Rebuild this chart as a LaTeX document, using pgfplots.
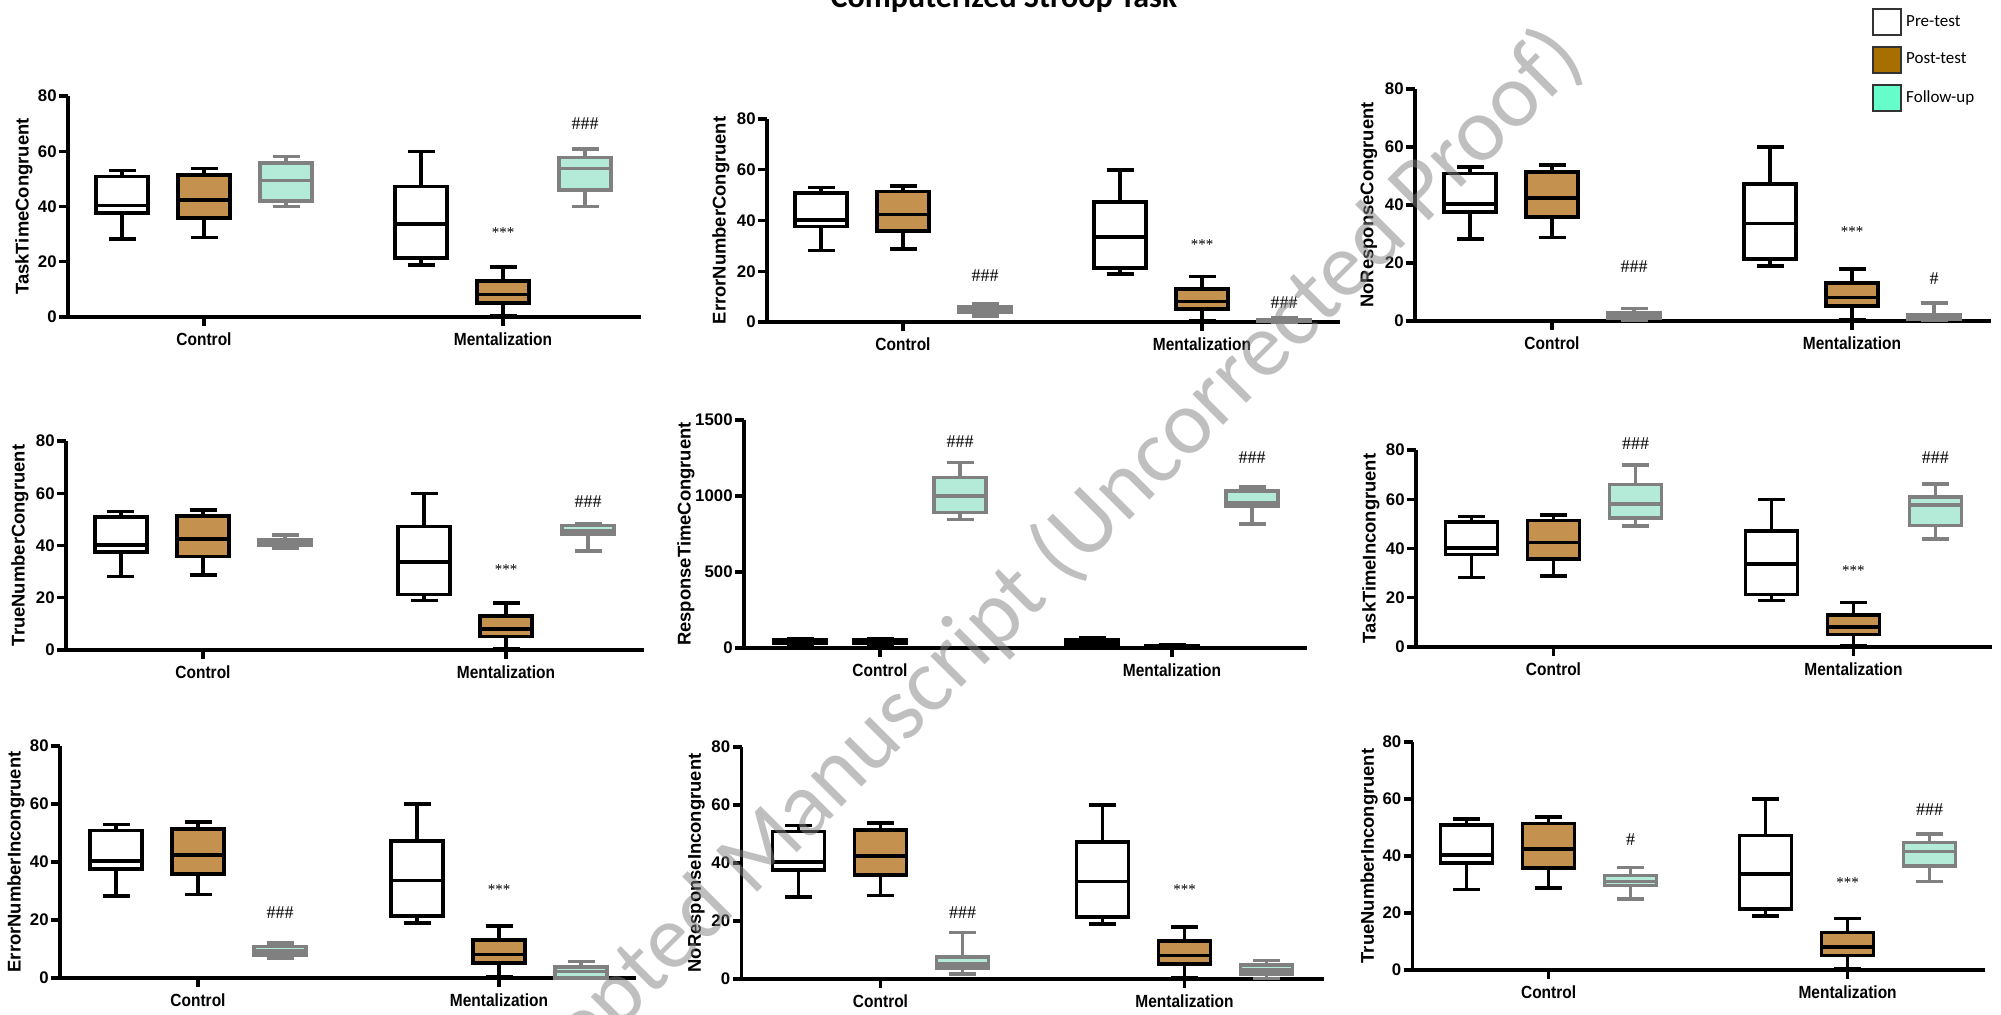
\documentclass[border=0pt]{standalone}
\usepackage{pgfplots}
\pgfplotsset{compat=1.18}
\usepgfplotslibrary{statistics}
\usepackage{fontspec}
\setmainfont{Liberation Sans}
\newfontfamily\lsans{Liberation Sans}
\newfontfamily\lcond{Liberation Sans}[FakeStretch=0.88]
\newfontfamily\carl{Carlito}
\newfontfamily\lserif{Liberation Serif}
\newcommand{\tickf}{\lsans\bfseries\fontsize{8.4}{9}\selectfont}
\newcommand{\catf}{\lcond\bfseries\fontsize{8.8}{10}\selectfont}
\newcommand{\ylabf}{\lsans\bfseries\fontsize{9.2}{10}\selectfont}
\newcommand{\legf}{\carl\fontsize{8.5}{10}\selectfont}
\newcommand{\titf}{\carl\bfseries\fontsize{16}{18}\selectfont}
\newcommand{\hashf}{\lserif\fontsize{9}{10}\selectfont}
\newcommand{\starf}{\lserif\fontsize{7.5}{8}\selectfont}
\definecolor{postfill}{HTML}{C4914F}
\definecolor{folfill}{HTML}{B3EAD8}
\definecolor{folgray}{HTML}{808080}
\definecolor{legpost}{HTML}{A66F00}
\definecolor{legfol}{HTML}{66FFCC}
\pgfplotsset{
  pre/.style={draw=black, fill=white, line width=1.8pt},
  post/.style={draw=black, fill=postfill, line width=1.8pt},
  fol/.style={draw=folgray, fill=folfill, line width=1.8pt},
  pan/.style n args={6}{at={(#1pt,#2pt)}, anchor=south west, scale only axis,
     width=#3pt, height=#4pt, xmin=0, xmax=#5, ymin=0, ymax=#6},
  common/.style={axis lines=left, axis line style={-, line width=1.7pt, black},
     boxplot/draw direction=y,
     tick align=outside, major tick length=4.5pt, minor tick num=0,
     tick style={line width=1.7pt, black}, enlargelimits=false, clip=false,
     yticklabel style={font=\tickf, inner sep=1pt},
     xticklabel style={font=\catf},
     every axis y label/.style={rotate=90, anchor=center, font=\ylabf},
     ytick={0,20,40,60,80}, yticklabels={0,20,40,60,80}},
}
\tikzset{st/.style={font=\starf, inner sep=0pt}, hs/.style={font=\hashf, inner sep=0pt}}
% position, style, lower whisker, lower quartile, median, upper quartile, upper whisker
\newcommand{\bx}[7]{\addplot[#2, forget plot, boxplot prepared={draw position=#1,
   lower whisker=#3, lower quartile=#4, median=#5, upper quartile=#6,
   upper whisker=#7, box extend=52, whisker extend=27}] coordinates {};}
\newcommand{\stdboxes}[4]{%
  \bx{#1}{pre}{28.2}{37.6}{40.3}{50.8}{53.0}
  \bx{#2}{post}{28.8}{35.8}{42.4}{51.4}{53.7}
  \bx{#3}{pre}{18.9}{21.3}{33.6}{47.2}{59.9}
  \bx{#4}{post}{0.5}{5.1}{8.1}{13.1}{18.0}}
\begin{document}
\begin{tikzpicture}
\path[use as bounding box, clip] (0pt,0pt) rectangle (1000.5pt,507.5pt);
% ---------- row 1 ----------
\begin{axis}[common, pan={34}{349}{286.5}{110.5}{573}{80},
  xtick={136,435}, xticklabels={Control,Mentalization},
  ylabel={TaskTimeCongruent}, ylabel style={at={(axis cs:-44,40)}}]
\stdboxes{54}{136}{353}{435}
\bx{218}{fol}{40}{42}{49.4}{55.7}{58.1}
\bx{517}{fol}{40}{46}{53.7}{57.8}{60.8}
\node[st] at (axis cs:435,30.7) {***};
\node[hs] at (axis cs:517,69.9) {\#\#\#};
\end{axis}
\begin{axis}[common, pan={383.5}{346.5}{286.5}{101.5}{573}{80},
  xtick={136,435}, xticklabels={Control,Mentalization},
  ylabel={ErrorNumberCongruent}, ylabel style={at={(axis cs:-46,40)}}]
\stdboxes{54}{136}{353}{435}
\bx{218}{fol}{2.4}{3.7}{4.7}{6.0}{7.1}
\bx{517}{fol}{0}{0.2}{0.5}{1.0}{1.5}
\node[hs] at (axis cs:218,18.4) {\#\#\#};
\node[st] at (axis cs:435,30.4) {***};
\node[hs] at (axis cs:517,7.6) {\#\#\#};
\end{axis}
\begin{axis}[common, pan={707.5}{347}{288}{116}{576}{80},
  xtick={137,437}, xticklabels={Control,Mentalization},
  ylabel={NoResponseCongruent}, ylabel style={at={(axis cs:-46,40)}},
  legend image code/.code={\draw[#1, line width=0.9pt] (0pt,-6.5pt) rectangle (14pt,6.5pt);},
  legend style={at={(axis cs:457,108)}, anchor=north west, draw=none, fill=none,
     inner sep=0pt, row sep=5pt, font=\legf, cells={anchor=west}},
  legend cell align=left]
\stdboxes{55}{137}{355}{437}
\bx{219}{fol}{0.2}{1.1}{2.0}{2.9}{4.3}
\bx{519}{fol}{0.2}{0.5}{1.4}{2.3}{6.2}
\node[hs] at (axis cs:219,18.6) {\#\#\#};
\node[st] at (axis cs:437,30.9) {***};
\node[hs] at (axis cs:519,14.6) {\#};
\addlegendimage{draw=black!80, fill=white}\addlegendentry{Pre-test}
\addlegendimage{draw=black!80, fill=legpost}\addlegendentry{Post-test}
\addlegendimage{draw=black!80, fill=legfol}\addlegendentry{Follow-up}
\end{axis}
% ---------- row 2 ----------
\begin{axis}[common, pan={33}{182.5}{289}{104.5}{578}{80},
  xtick={137,440}, xticklabels={Control,Mentalization},
  ylabel={TrueNumberCongruent}, ylabel style={at={(axis cs:-46,40)}}]
\stdboxes{55}{137}{358}{440}
\bx{219}{fol}{39}{40}{41}{42}{44.1}
\bx{522}{fol}{37.8}{44.3}{45.6}{47.6}{48.2}
\node[st] at (axis cs:440,30.8) {***};
\node[hs] at (axis cs:522,56.7) {\#\#\#};
\end{axis}
\begin{axis}[common, pan={372}{183.5}{281.5}{114}{563}{1500},
  xtick={136,428}, xticklabels={Control,Mentalization},
  ytick={0,500,1000,1500}, yticklabels={0,500,1000,1500},
  ylabel={ResponseTimeCongruent}, ylabel style={at={(axis cs:-58,750)}}]
\bx{56}{pre}{24}{29}{44}{55}{61}
\bx{136}{post}{22}{30}{42}{52}{58}
\bx{216}{fol}{845}{892}{1001}{1122}{1219}
\bx{348}{pre}{18}{25}{35}{55}{68}
\bx{428}{post}{7}{9}{12}{16}{22}
\bx{508}{fol}{815}{933}{955}{1034}{1061}
\node[hs] at (axis cs:216,1357) {\#\#\#};
\node[hs] at (axis cs:508,1254) {\#\#\#};
\end{axis}
\begin{axis}[common, pan={708}{184}{288}{98.5}{576}{80},
  xtick={137.5,437.4}, xticklabels={Control,Mentalization},
  ylabel={TaskTimeIncongruent}, ylabel style={at={(axis cs:-45,40)}}]
\stdboxes{55.5}{137.5}{355.4}{437.4}
\bx{219.5}{fol}{49.1}{52.3}{58.1}{66}{73.8}
\bx{519.4}{fol}{43.8}{49.3}{57.6}{60.8}{66.1}
\node[hs] at (axis cs:219.5,82.7) {\#\#\#};
\node[st] at (axis cs:437.4,30.9) {***};
\node[hs] at (axis cs:519.4,76.9) {\#\#\#};
\end{axis}
% ---------- row 3 ----------
\begin{axis}[common, pan={30}{18.5}{288}{116}{576}{80},
  xtick={138,439}, xticklabels={Control,Mentalization},
  ylabel={ErrorNumberIncongruent}, ylabel style={at={(axis cs:-44,40)}}]
\stdboxes{56}{138}{357}{439}
\bx{220}{fol}{6.7}{8}{9.4}{10.9}{12.1}
\bx{521}{fol}{0}{0}{2.3}{3.7}{5.7}
\node[hs] at (axis cs:220,22.6) {\#\#\#};
\node[st] at (axis cs:439,30.6) {***};
\end{axis}
\begin{axis}[common, pan={370.75}{18}{291.25}{116}{582.5}{80},
  xtick={139,443}, xticklabels={Control,Mentalization},
  ylabel={NoResponseIncongruent}, ylabel style={at={(axis cs:-45,40)}}]
\stdboxes{57}{139}{361}{443}
\bx{221}{fol}{1.8}{3.8}{5.2}{7.6}{16.1}
\bx{525}{fol}{0.2}{1.8}{3.2}{4.9}{6.4}
\node[hs] at (axis cs:221,22.8) {\#\#\#};
\node[st] at (axis cs:443,31) {***};
\end{axis}
\begin{axis}[common, pan={706.3}{22.5}{286.2}{114}{572.4}{80},
  xtick={136,435}, xticklabels={Control,Mentalization},
  ylabel={TrueNumberIncongruent}, ylabel style={at={(axis cs:-43.5,40)}}]
\stdboxes{54}{136}{353}{435}
\bx{218}{fol}{24.9}{29.6}{31}{33.1}{35.9}
\bx{517}{fol}{31}{36.5}{41.6}{44.7}{47.8}
\node[hs] at (axis cs:218,45.9) {\#};
\node[st] at (axis cs:435,30.8) {***};
\node[hs] at (axis cs:517,56.4) {\#\#\#};
\end{axis}
% ---------- title and watermark ----------
\node[font=\titf, anchor=base, inner sep=0pt] at (502pt,503.5pt) {Computerized Stroop Task};
\node[font=\carl\fontsize{45.5}{50}\selectfont, text=gray, opacity=0.5, rotate=45, inner sep=0pt]
  at (511pt,212pt) {Accepted Manuscript (Uncorrected Proof)};
\end{tikzpicture}
\end{document}
